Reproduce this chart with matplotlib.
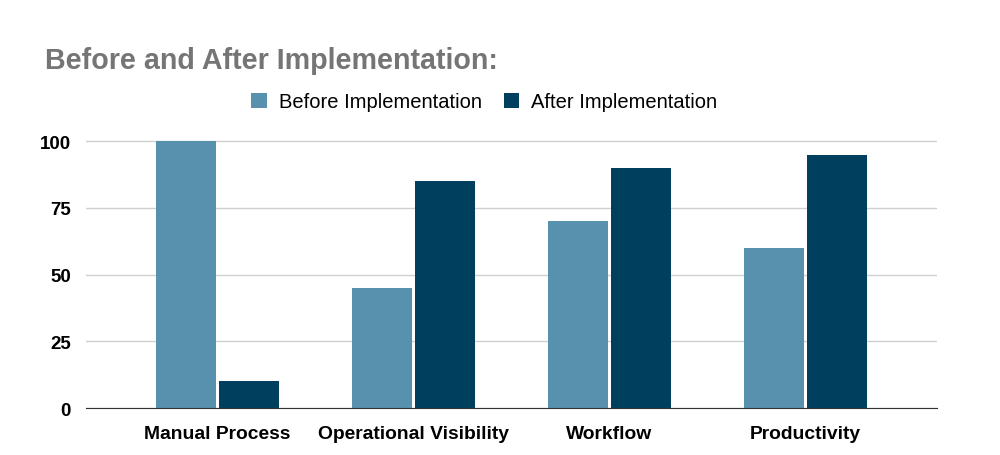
import matplotlib.pyplot as plt
import numpy as np

plt.rcParams['font.family'] = ['Liberation Sans', 'DejaVu Sans']

# Data
categories = ['Manual Process', 'Operational Visibility', 'Workflow', 'Productivity']
before = [100, 45, 70, 60]
after = [10, 85, 90, 95]
yticks = [0, 25, 50, 75, 100]

x = np.arange(len(categories))
width = 0.306
offset = 0.161

fig = plt.figure(figsize=(10, 4.56), dpi=100)
ax = fig.add_axes([0.086, 0.103, 0.851, 0.588])

ax.bar(x - offset, before, width, color='#5891ad', label='Before Implementation', zorder=3)
ax.bar(x + offset, after, width, color='#00405e', label='After Implementation', zorder=3)

ax.set_xlim(-0.671, len(categories) - 1 + 0.671)
ax.set_ylim(0, 100.5)
ax.set_yticks(yticks)
ax.set_xticks(x)
ax.set_xticklabels(categories, fontsize=13.9, fontweight='bold')
for lbl in ax.get_yticklabels():
    lbl.set_fontsize(13.5)
    lbl.set_fontweight('bold')

ax.grid(axis='y', color='#d0d0d0', linewidth=1, zorder=0)
for s in ['top', 'right', 'left']:
    ax.spines[s].set_visible(False)
ax.spines['bottom'].set_color('#333333')
ax.spines['bottom'].set_zorder(4)
ax.tick_params(axis='both', length=0)
ax.tick_params(axis='y', pad=11)
ax.tick_params(axis='x', pad=12)

fig.text(0.045, 0.866, 'Before and After Implementation:', fontsize=20.6,
         fontweight='bold', color='#757575', va='center', ha='left')

ax.legend(loc='center', bbox_to_anchor=(0.468, 1.142), ncol=2, frameon=False,
          fontsize=14.5, handlelength=0.75, handleheight=0.75, columnspacing=1.1,
          handletextpad=0.6)

fig.savefig('out.png', dpi=100)
